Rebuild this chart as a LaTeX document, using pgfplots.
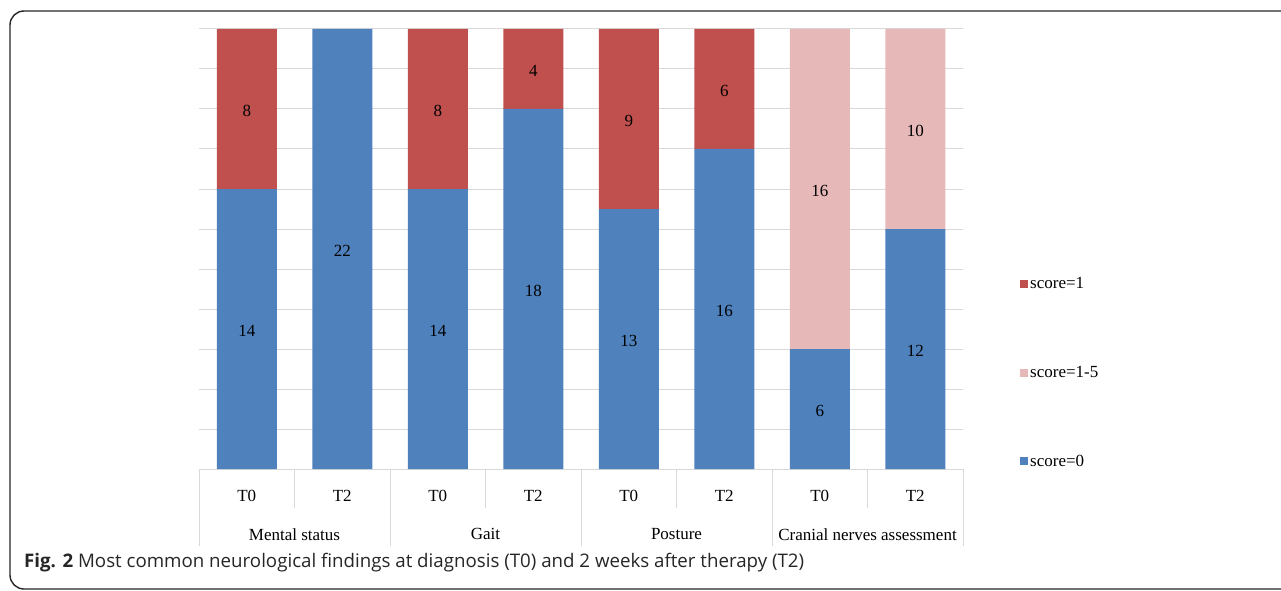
\documentclass[border=0pt]{standalone}
\usepackage{fontspec}
\setmainfont{Liberation Serif}
\newfontfamily\capfont{Open Sans}
\usepackage{pgfplots}
\usepackage{pgfplotstable}
\pgfplotsset{compat=1.18}
\definecolor{cblue}{HTML}{4F81BD}
\definecolor{cred}{HTML}{C0504D}
\definecolor{cpink}{HTML}{E6B9B8}
\definecolor{cgrid}{HTML}{D9D9D9}
\pgfplotstableread[col sep=comma]{
x,blue,pink,red,lb,lp,lr
0,14,0,8,14,,8
1,22,0,0,22,,
2,14,0,8,14,,8
3,18,0,4,18,,4
4,13,0,9,13,,9
5,16,0,6,16,,6
6,6,16,0,6,16,
7,12,10,0,12,10,
}\data
\begin{document}
\begin{tikzpicture}[x=1pt,y=1pt]
\path[use as bounding box] (0,0) rectangle (1281,590);
\draw[line width=1.4pt, black!85, rounded corners=14pt] (1300,1) -- (10,1) -- (10,579) -- (1300,579);
\begin{axis}[
  at={(199pt,121pt)}, anchor=south west,
  scale only axis, width=764pt, height=440pt,
  ybar stacked, bar width=60pt,
  xmin=-0.5, xmax=7.5, ymin=0, ymax=22,
  ytick={0,2,...,22}, yticklabels={}, ymajorgrids,
  grid style={cgrid, line width=1pt},
  ytick style={draw=none},
  axis line style={draw=none},
  xtick pos=bottom,
  xtick={0,...,7},
  xticklabels={T0,T2,T0,T2,T0,T2,T0,T2},
  minor xtick={-0.5,0.5,...,7.5},
  tick align=outside,
  xtick style={cgrid, line width=1pt},
  major tick length=0pt,
  minor tick length=39pt,
  extra x ticks={-0.5,1.5,3.5,5.5,7.5},
  extra x tick labels={Mental status, Gait, Posture, Cranial nerves assessment, {}},
  extra x tick style={major tick length=77pt, xticklabel style={xshift=95.5pt, yshift=39pt}},
  tick label style={font=\fontsize{17}{20}\selectfont},
  xticklabel style={yshift=-18pt},
  point meta=explicit symbolic,
  nodes near coords,
  every node near coord/.append style={anchor=center, yshift=-2pt, font=\fontsize{17}{20}\selectfont},
  legend image code/.code={\fill[#1] (0pt,-4pt) rectangle (8pt,4pt);},
  reverse legend,
  legend style={at={(1.0746,0.440)}, anchor=north west, draw=none, fill=none,
    inner sep=0pt, row sep=72pt, font=\fontsize{17}{20}\selectfont,
    nodes={inner sep=2pt}, cells={anchor=west}},
]
\addplot[fill=cblue, draw=none] table[x=x, y=blue, meta=lb] {\data};
\addlegendentry{score=0}
\addplot[fill=cpink, draw=none] table[x=x, y=pink, meta=lp] {\data};
\addlegendentry{score=1-5}
\addplot[fill=cred, draw=none] table[x=x, y=red, meta=lr] {\data};
\addlegendentry{score=1}
\end{axis}
\node[anchor=base west, inner sep=0pt, text=black!85] at (24,23) {\capfont\fontsize{18.7}{22}\selectfont\textbf{Fig. 2} Most common neurological findings at diagnosis (T0) and 2 weeks after therapy (T2)};
\end{tikzpicture}
\end{document}
